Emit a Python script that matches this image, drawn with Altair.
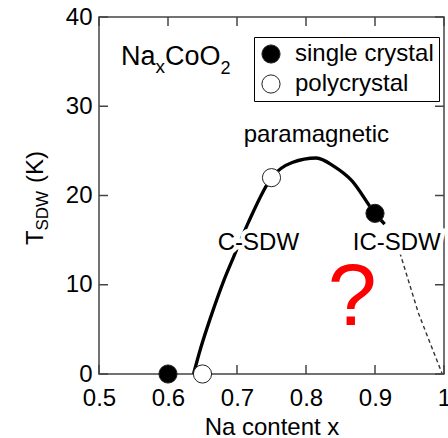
import altair as alt
import pandas as pd

# ---- data ----
single_x = [0.6, 0.9]
single_y = [0, 18]
poly_x = [0.65, 0.75]
poly_y = [0, 22]
kinds = ["single crystal", "polycrystal"]

curve_x = [0.637, 0.647, 0.662, 0.681, 0.695, 0.716, 0.75, 0.78, 0.815, 0.84, 0.866, 0.9, 0.914]
curve_y = [0, 2.8, 6.4, 10.5, 13.1, 16.9, 22, 23.7, 24.2, 23.3, 21.7, 18, 16.8]
dash_x = [0.936, 0.963, 0.997]
dash_y = [13.6, 6.8, 0.1]

x_ticks = [0.5, 0.6, 0.7, 0.8, 0.9, 1.0]
y_ticks = [0, 10, 20, 30, 40]

region_labels = ["paramagnetic", "C-SDW", "IC-SDW"]
region_x = [0.815, 0.731, 0.9315]
region_y = [26.0, 13.9, 13.9]
question_x = [0.867]
question_y = [5.5]
formula_x = [0.532]
formula_y = [34.6]

W, H = 345, 357
TL = 9
AX = "#444444"
FONT = "Liberation Sans"

xs = alt.Scale(domain=[0.5, 1.0], nice=False, zero=False)
ys = alt.Scale(domain=[0, 40], nice=False)
x_axis = alt.Axis(values=x_ticks, format="~g", ticks=False, domain=False, grid=False,
                  labelPadding=12, labelFontSize=24, labelColor="black", labelFlush=False,
                  title="Na content x", titleFontSize=24, titleFontWeight="normal",
                  titleColor="black", titleY=60, titleBaseline="alphabetic")
y_axis = alt.Axis(values=y_ticks, format="d", ticks=False, domain=False, grid=False,
                  labelPadding=7, labelFontSize=24, labelColor="black", title=None)
X = alt.X("x:Q", scale=xs, axis=x_axis)
Y = alt.Y("y:Q", scale=ys, axis=y_axis)

curve_df = pd.DataFrame({"x": curve_x, "y": curve_y})
dash_df = pd.DataFrame({"x": dash_x, "y": dash_y})
pts_df = pd.DataFrame({
    "x": single_x + poly_x,
    "y": single_y + poly_y,
    "kind": [kinds[0]] * len(single_x) + [kinds[1]] * len(poly_x),
})
xt_df = pd.DataFrame({"x": x_ticks})
yt_df = pd.DataFrame({"y": y_ticks})
reg_df = pd.DataFrame({"x": region_x, "y": region_y, "t": region_labels})
q_df = pd.DataFrame({"x": question_x, "y": question_y, "t": ["?"]})
f_df = pd.DataFrame({"x": formula_x, "y": formula_y})

# inward ticks on all four sides
tick_b = alt.Chart(xt_df).mark_rule(color=AX, strokeWidth=1.5).encode(x=X, y=alt.value(H), y2=alt.value(H - TL))
tick_t = alt.Chart(xt_df).mark_rule(color=AX, strokeWidth=1.5).encode(x=X, y=alt.value(0), y2=alt.value(TL))
tick_l = alt.Chart(yt_df).mark_rule(color=AX, strokeWidth=1.5).encode(y=Y, x=alt.value(0), x2=alt.value(TL))
tick_r = alt.Chart(yt_df).mark_rule(color=AX, strokeWidth=1.5).encode(y=Y, x=alt.value(W), x2=alt.value(W - TL))

curve = alt.Chart(curve_df).mark_line(color="black", strokeWidth=3.3, interpolate="monotone").encode(x=X, y=Y)
dash = alt.Chart(dash_df).mark_line(color="#333333", strokeWidth=1.4, strokeDash=[4, 3]).encode(x=X, y=Y)

points = alt.Chart(pts_df).mark_circle(size=330, stroke="#222222", strokeWidth=1, opacity=1).encode(
    x=X, y=Y,
    fill=alt.Fill("kind:N", scale=alt.Scale(domain=kinds, range=["black", "white"]),
                  legend=alt.Legend(title=None, orient="none", legendX=155, legendY=20,
                                    strokeColor="black", fillColor="white", padding=5,
                                    rowPadding=6, labelFontSize=24, labelFont=FONT,
                                    labelColor="black", labelOffset=12, labelLimit=0,
                                    symbolSize=330, symbolType="circle",
                                    symbolStrokeColor="#222222", symbolStrokeWidth=1,
                                    symbolOpacity=1)),
)

# white halo behind region labels (the curve is broken around the text)
halo = alt.Chart(reg_df).mark_text(fontSize=24, font=FONT, color="white", stroke="white",
                                   strokeWidth=9, align="center", baseline="alphabetic").encode(
    x=X, y=Y, text="t:N")
regions = alt.Chart(reg_df).mark_text(fontSize=24, font=FONT, color="black", align="center",
                                      baseline="alphabetic").encode(x=X, y=Y, text="t:N")
question = alt.Chart(q_df).mark_text(fontSize=88, font=FONT, color="#ff0000", align="center",
                                     baseline="alphabetic").encode(x=X, y=Y, text="t:N")

# Na_xCoO_2 with subscripts
def ftext(t, size, dx, dy):
    return alt.Chart(f_df).mark_text(text=t, fontSize=size, font=FONT, color="black", align="left",
                                     baseline="alphabetic", dx=dx, dy=dy).encode(x=X, y=Y)

formula = ftext("Na", 27, 0, 0) + ftext("x", 19, 34.5, 8) + ftext("CoO", 27, 44, 0) + ftext("2", 18, 99.5, 9)

# y-axis title T_SDW (K), rotated
def ytext(t, size, px, py):
    return alt.Chart(f_df).mark_text(text=t, fontSize=size, font=FONT, color="black", align="left",
                                     baseline="alphabetic", angle=270).encode(x=alt.value(px), y=alt.value(py))

ytitle = ytext("T", 24, -56, 228) + ytext("SDW", 17, -51, 213.5) + ytext("(K)", 24, -56, 166)

chart = alt.layer(
    tick_b, tick_t, tick_l, tick_r, curve, dash, halo, points, regions, question, formula, ytitle
).properties(
    width=W, height=H,
    autosize=alt.AutoSizeParams(type="none"),
    padding={"left": 99, "top": 17, "right": 4, "bottom": 64},
).configure(font=FONT).configure_view(stroke=AX, strokeWidth=1.5)

chart.save("out.html", embed_options={"renderer": "svg", "actions": False})
